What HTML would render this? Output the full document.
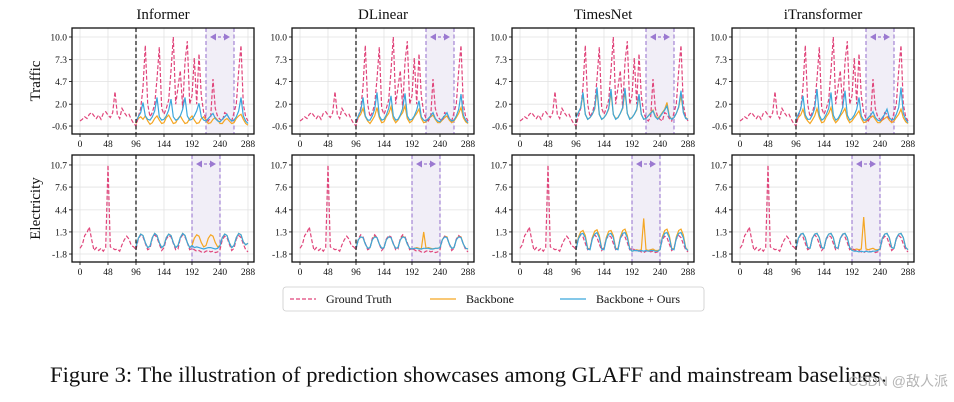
<!DOCTYPE html>
<html><head><meta charset="utf-8">
<style>
html,body{margin:0;padding:0;background:#fff;}
svg{display:block;font-family:"Liberation Serif",serif;}
</style></head>
<body>
<svg id="fig" width="954" height="402" viewBox="0 0 954 402" xmlns="http://www.w3.org/2000/svg"></svg>
<script>
const models = ["Informer","DLinear","TimesNet","iTransformer"];
const datasets = ["Traffic","Electricity"];
const xTicks = [0,48,96,144,192,240,288];
const trafficTicks = [-0.6,2.0,4.7,7.3,10.0];
const elecTicks = [-1.8,1.3,4.4,7.6,10.7];
const trafficTickLabels = ["-0.6","2.0","4.7","7.3","10.0"];
const elecTickLabels = ["-1.8","1.3","4.4","7.6","10.7"];
const trafficWindows = [[216,264],[216,264],[216,264],[216,264]];
const elecWindows = [[192,240],[192,240],[192,240],[192,240]];
// ground truth, t = 0..288 step 4
const trafficGT = [0,0.2,0.5,0.3,0.8,1,0.6,0.3,0.7,0.2,0.9,1.1,0.7,0.4,1.0,3.5,0.8,0.3,1.5,1.0,0.6,0.8,0.2,-0.3,-0.6,0.5,1.5,4,9,2,0.5,1,2,5,8.8,1.5,0.8,1.5,2.5,6,10,2,4,6,1.5,7,9.5,2,3,7.5,2,8,3,1,0.3,0,0.5,5,1.5,0.5,0.2,0,1,0.8,0.3,0,1,2,6,9,2,0.5,0];
const elecGT = [-1,-0.5,0.8,1.2,2,0.2,-1.3,-0.9,-1.3,-1.0,-1.4,-0.9,10.7,-0.8,-1.0,-1.2,-1.1,-1.4,-0.5,0.2,0.7,0.3,-0.6,-0.8,-1.2,0.3,0.9,0.6,-0.3,-1.2,-1.0,0.4,0.9,0.5,-0.4,-1.3,-0.9,0.3,0.8,0.6,-0.3,-1.2,-1.1,0.4,0.9,0.6,-0.2,-1.2,-1.0,-1.2,-1.4,-1.3,-1.5,-1.6,-1.4,-1.3,-1.5,-1.4,-1.6,-1.5,-1.2,0.2,0.7,0.5,-0.4,-1.3,-1.0,0.3,0.8,0.5,-0.4,-1.2,-1.5];
// forecasts, t = 96..288 step 4
const trafficBackbone = [
[-0.3,0.3,0.5,0.2,0.6,0,-0.4,-0.2,0.3,0.6,0.1,-0.3,-0.2,0.4,0.7,0.2,-0.3,-0.2,0.3,0.6,0.1,-0.3,-0.2,0.3,0.6,0.1,-0.3,-0.2,0.3,0.5,0.1,-0.3,-0.2,0.2,0.4,0.1,-0.3,-0.3,0.1,0.3,0,-0.3,-0.2,0.3,0.6,0.8,0.2,-0.3,-0.5],
[-0.2,0.4,0.8,1.5,0.5,0,-0.3,0.1,0.6,1.6,0.4,-0.2,-0.1,0.5,0.9,1.7,0.3,-0.2,0.1,0.6,1.0,1.8,0.3,-0.2,0,0.5,0.9,1.4,0.3,-0.2,-0.1,0.2,0.5,0.7,0.2,-0.2,-0.2,0.1,0.4,0.6,0.1,-0.2,0,0.4,0.9,1.6,0.4,-0.1,-0.3],
[0.5,1,1.5,3.2,0.8,0.2,0.4,0.8,1.4,3.6,0.8,0.2,0.4,0.8,1.4,3.4,0.8,0.3,0.4,0.9,1.5,3.5,0.9,0.3,0.4,0.8,1.3,3.0,0.8,0.2,0.3,0.6,1.0,1.3,0.6,0.3,0.6,1.0,1.4,2.2,0.6,0.2,0.4,0.9,1.6,3.0,1.2,0.4,0.2],
[-0.2,0.4,0.7,1.4,0.4,0,-0.3,0.1,0.6,1.5,0.4,-0.2,-0.1,0.5,0.9,1.6,0.3,-0.2,0.1,0.6,1.0,1.5,0.3,-0.2,0,0.4,0.8,1.2,0.3,-0.2,-0.1,0.2,0.4,0.6,0.2,-0.2,-0.2,0.1,0.3,0.5,0.1,-0.2,0,0.4,0.8,1.4,0.4,-0.1,-0.3]];
const trafficOurs = [
[0,0.5,1,2.2,0.6,0.2,0.1,0.5,1.2,2.8,0.5,0.1,0.2,0.6,1.3,2.6,0.5,0.1,0.2,0.6,1.4,2.8,0.6,0.1,0.2,0.6,1.2,2.1,0.5,0.1,0,0.3,0.6,0.9,0.3,0,-0.1,0.2,0.5,0.8,0.3,0,0.1,0.5,1.2,2.8,0.6,0,-0.3],
[0,0.6,1.2,2.8,0.6,0.1,0.1,0.6,1.4,3.4,0.6,0.1,0.2,0.7,1.5,3.0,0.6,0.1,0.2,0.7,1.5,3.3,0.6,0.1,0.2,0.6,1.3,2.4,0.5,0.1,0,0.3,0.6,1.0,0.3,0,-0.1,0.3,0.6,1.0,0.3,0,0.1,0.6,1.4,3.2,0.7,0.1,-0.2],
[0.4,1,1.6,3.4,0.8,0.2,0.4,0.8,1.5,4.0,0.8,0.2,0.4,0.8,1.5,3.8,0.8,0.2,0.4,0.9,1.6,3.9,0.9,0.2,0.4,0.8,1.4,3.2,0.8,0.2,0.3,0.6,0.9,1.2,0.5,0.2,0.5,0.9,1.3,1.8,0.5,0.2,0.4,0.9,1.7,3.6,1.0,0.3,0.2],
[0.2,0.8,1.4,3.0,0.7,0.2,0.2,0.7,1.5,3.8,0.7,0.1,0.3,0.8,1.5,3.4,0.7,0.1,0.3,0.8,1.6,3.6,0.7,0.1,0.3,0.7,1.4,2.8,0.6,0.1,0.1,0.4,0.7,1.1,0.4,0.1,0,0.4,0.8,1.4,0.4,0.1,0.2,0.8,1.6,4.0,0.9,0.2,-0.2]];
const elecBackbone = [
[-0.8,0.4,1.0,0.8,-0.2,-0.9,-0.7,0.5,1.1,0.8,-0.2,-0.9,-0.6,0.5,1.0,0.8,-0.2,-0.9,-0.6,0.5,1.1,0.8,-0.2,-0.9,-0.6,0.4,0.9,0.7,-0.2,-0.8,-0.6,0.4,0.9,0.7,-0.2,-0.8,-0.6,0.5,1.0,0.8,-0.2,-0.9,-0.6,0.5,1.1,0.9,-0.1,-0.5,-0.3],
[-1.0,0.2,0.6,0.5,-0.4,-1.0,-0.9,0.2,0.7,0.5,-0.4,-1.0,-0.9,0.2,0.6,0.5,-0.4,-1.0,-0.9,0.2,0.7,0.5,-0.4,-1.0,-1.1,-1.0,-0.9,-1.0,-1.1,1.3,-1.0,-0.9,-1.0,-1.1,-1.0,-1.0,-0.9,0.2,0.7,0.6,-0.4,-1.0,-0.9,0.2,0.7,0.6,-0.4,-1.0,-1.1],
[-1.2,0.5,1.3,1.5,0.8,-1.0,-1.1,0.5,1.4,1.6,0.8,-1.0,-1.1,0.5,1.4,1.5,0.8,-1.0,-1.1,0.6,1.5,1.7,0.8,-1.0,-1.4,-1.3,-1.2,-1.3,-1.2,3.2,-1.2,-1.3,-1.2,-1.1,-1.3,-1.3,-1.2,0.6,1.5,1.7,0.8,-1.0,-1.1,0.6,1.5,1.7,0.9,-0.9,-1.3],
[-1.0,0.4,1.0,1.1,0.5,-0.9,-1.0,0.4,1.0,1.1,0.5,-0.9,-1.0,0.4,1.0,1.1,0.5,-0.9,-1.0,0.4,1.0,1.1,0.5,-0.9,-1.2,-1.2,-1.1,-1.2,-1.1,3.4,-1.1,-1.2,-1.1,-1.0,-1.2,-1.2,-1.1,0.4,1.0,1.1,0.5,-0.9,-1.0,0.4,1.0,1.1,0.5,-0.9,-1.2]];
const elecOurs = [
[-0.8,0.4,1.0,0.8,-0.2,-0.9,-0.7,0.5,1.1,0.8,-0.2,-0.9,-0.6,0.5,1.0,0.8,-0.2,-0.9,-0.6,0.5,1.1,0.8,-0.2,-0.9,-0.6,-0.9,-0.8,-0.9,-1.0,-1.1,-1.0,-0.9,-0.9,-1.0,-1.1,-1.0,-0.6,0.5,1.0,0.8,-0.2,-0.9,-0.6,0.5,1.1,0.9,-0.1,-0.5,-0.3],
[-1.0,0.2,0.6,0.5,-0.4,-1.0,-0.9,0.2,0.6,0.5,-0.4,-1.0,-0.9,0.2,0.6,0.5,-0.4,-1.0,-0.9,0.2,0.6,0.5,-0.4,-1.0,-1.1,-1.0,-1.0,-1.1,-1.1,-1.0,-1.0,-1.0,-1.1,-1.1,-1.0,-1.0,-0.9,0.2,0.6,0.5,-0.4,-1.0,-0.9,0.2,0.6,0.5,-0.4,-1.0,-1.1],
[-1.2,0.3,1.0,1.1,0.5,-1.1,-1.2,0.3,1.0,1.2,0.5,-1.1,-1.2,0.3,1.0,1.1,0.5,-1.1,-1.2,0.4,1.1,1.2,0.5,-1.1,-1.4,-1.3,-1.3,-1.4,-1.3,-1.4,-1.3,-1.4,-1.3,-1.3,-1.4,-1.4,-1.2,0.4,1.1,1.2,0.5,-1.1,-1.2,0.4,1.1,1.2,0.5,-1.0,-1.3],
[-1.0,0.4,1.0,1.1,0.5,-0.9,-1.0,0.4,1.0,1.1,0.5,-0.9,-1.0,0.4,1.0,1.1,0.5,-0.9,-1.0,0.4,1.0,1.1,0.5,-0.9,-1.3,-1.4,-1.4,-1.5,-1.4,-1.5,-1.4,-1.5,-1.5,-1.4,-1.4,-1.3,-1.1,0.4,1.0,1.1,0.5,-0.9,-1.0,0.4,1.0,1.1,0.5,-0.9,-1.2]];

const NS = "http://www.w3.org/2000/svg";
const svg = document.getElementById("fig");
function mk(tag, attrs, parent){ const e=document.createElementNS(NS,tag); for(const k in attrs) e.setAttribute(k,attrs[k]); (parent||svg).appendChild(e); return e; }
const panelLefts=[72,292,512,732], panelW=182;
const rows=[{top:28,bot:134,ymin:-1.55,ymax:11.07},{top:155,bot:262,ymin:-2.92,ymax:12.1}];
const GTc="#e0457b", BBc="#f5a623", OUc="#3ba7dc";

function xScale(L,t){ return L+8+t*(168/288); }
function yScale(r,v){ return r.bot-(v-r.ymin)/(r.ymax-r.ymin)*(r.bot-r.top); }
function pathD(L,r,vals,t0){ return vals.map((v,i)=>(i?"L":"M")+xScale(L,t0+i*4).toFixed(1)+","+yScale(r,v).toFixed(1)).join(""); }

for(let ri=0;ri<2;ri++){
  const r=rows[ri];
  const ticks= ri===0?trafficTicks:elecTicks;
  const labels= ri===0?trafficTickLabels:elecTickLabels;
  for(let p=0;p<4;p++){
    const L=panelLefts[p];
    const g=mk("g",{});
    
    
    xTicks.forEach(t=>{ const x=xScale(L,t); mk("line",{x1:x,x2:x,y1:r.top,y2:r.bot,stroke:"#e2e2e2","stroke-width":0.8},g); });
    ticks.forEach(v=>{ const y=yScale(r,v); mk("line",{x1:L,x2:L+panelW,y1:y,y2:y,stroke:"#e2e2e2","stroke-width":0.8},g); });
    const w= ri===0?trafficWindows[p]:elecWindows[p];
    const wx1=xScale(L,w[0]), wx2=xScale(L,w[1]);
    const win=mk("rect",{x:wx1,y:r.top,width:wx2-wx1,height:r.bot-r.top,fill:"#f1eef7"},g);
    
    
    [wx1,wx2].forEach(x=>mk("line",{x1:x,x2:x,y1:r.top,y2:r.bot,stroke:"#9b79d0","stroke-width":1.1,"stroke-dasharray":"4,2.5"},g));
    const ay=r.top+9, ac="#9b79d0";
    mk("line",{x1:wx1+7,x2:wx2-7,y1:ay,y2:ay,stroke:ac,"stroke-width":1.2,"stroke-dasharray":"3,2"},g);
    mk("path",{d:`M${wx1+4},${ay}l6,-3.5v7z M${wx2-4},${ay}l-6,-3.5v7z`,fill:ac},g);
    xTicks.forEach(t=>{ const x=xScale(L,t); mk("line",{x1:x,x2:x,y1:r.bot,y2:r.bot+3,stroke:"#000","stroke-width":0.8},g);
      const tx=mk("text",{x:x,y:r.bot+13,"font-size":9.5,"text-anchor":"middle",fill:"#111"},g); tx.textContent=t; });
    ticks.forEach((v,i)=>{ const y=yScale(r,v); mk("line",{x1:L-3,x2:L,y1:y,y2:y,stroke:"#000","stroke-width":0.8},g);
      const tx=mk("text",{x:L-5,y:y+3.5,"font-size":9.5,"text-anchor":"end",fill:"#111"},g); tx.textContent=labels[i]; });
    const gt= ri===0?trafficGT:elecGT;
    const bb= ri===0?trafficBackbone[p]:elecBackbone[p];
    const ou= ri===0?trafficOurs[p]:elecOurs[p];
    const s1=mk("path",{d:pathD(L,r,bb,96),fill:"none",stroke:BBc,"stroke-width":1.2},g);
    
    
    const s2=mk("path",{d:pathD(L,r,gt,0),fill:"none",stroke:GTc,"stroke-width":1.2,"stroke-dasharray":"4,2"},g);
    
    
    const s3=mk("path",{d:pathD(L,r,ou,96),fill:"none",stroke:OUc,"stroke-width":1.2},g);
    
    
    const sx=xScale(L,96);
    mk("line",{x1:sx,x2:sx,y1:r.top,y2:r.bot,stroke:"#222","stroke-width":1.3,"stroke-dasharray":"4,2.5"},g);
    mk("rect",{x:L,y:r.top,width:panelW,height:r.bot-r.top,fill:"none",stroke:"#111","stroke-width":1.3},g);
    if(ri===0){ const tt=mk("text",{x:L+panelW/2,y:19,"font-size":15,"text-anchor":"middle",fill:"#111"}); tt.textContent=models[p];
        }
  }
  const yl=mk("text",{x:0,y:0,"font-size":15,"text-anchor":"middle",fill:"#111",transform:`translate(40,${(r.top+r.bot)/2}) rotate(-90)`});
  yl.textContent=datasets[ri];
  
  
}
const lg=mk("g",{});


mk("rect",{x:283,y:287,width:421,height:24,rx:3,fill:"#fff",stroke:"#ccc","stroke-width":0.8},lg);
const legendItems=[["Ground Truth",GTc,true,290],["Backbone",BBc,false,430],["Backbone + Ours",OUc,false,560]];
legendItems.forEach(it=>{
  const e=mk("g",{},lg);
  
  
  mk("line",{x1:it[3],x2:it[3]+26,y1:299,y2:299,stroke:it[1],"stroke-width":1.3,"stroke-dasharray":it[2]?"4,2":"none"},e);
  const t=mk("text",{x:it[3]+36,y:303,"font-size":12,fill:"#111"},e); t.textContent=it[0];
});
const cap=mk("text",{x:50,y:382,"font-size":22.6,fill:"#111"});
cap.textContent="Figure 3: The illustration of prediction showcases among GLAFF and mainstream baselines.";


const wm=mk("text",{x:948,y:386,"font-size":14,"text-anchor":"end",fill:"#b4b4b4","font-family":"Liberation Sans, Noto Sans CJK SC, sans-serif"});
wm.textContent="CSDN @敌人派";


</script>
</body></html>
